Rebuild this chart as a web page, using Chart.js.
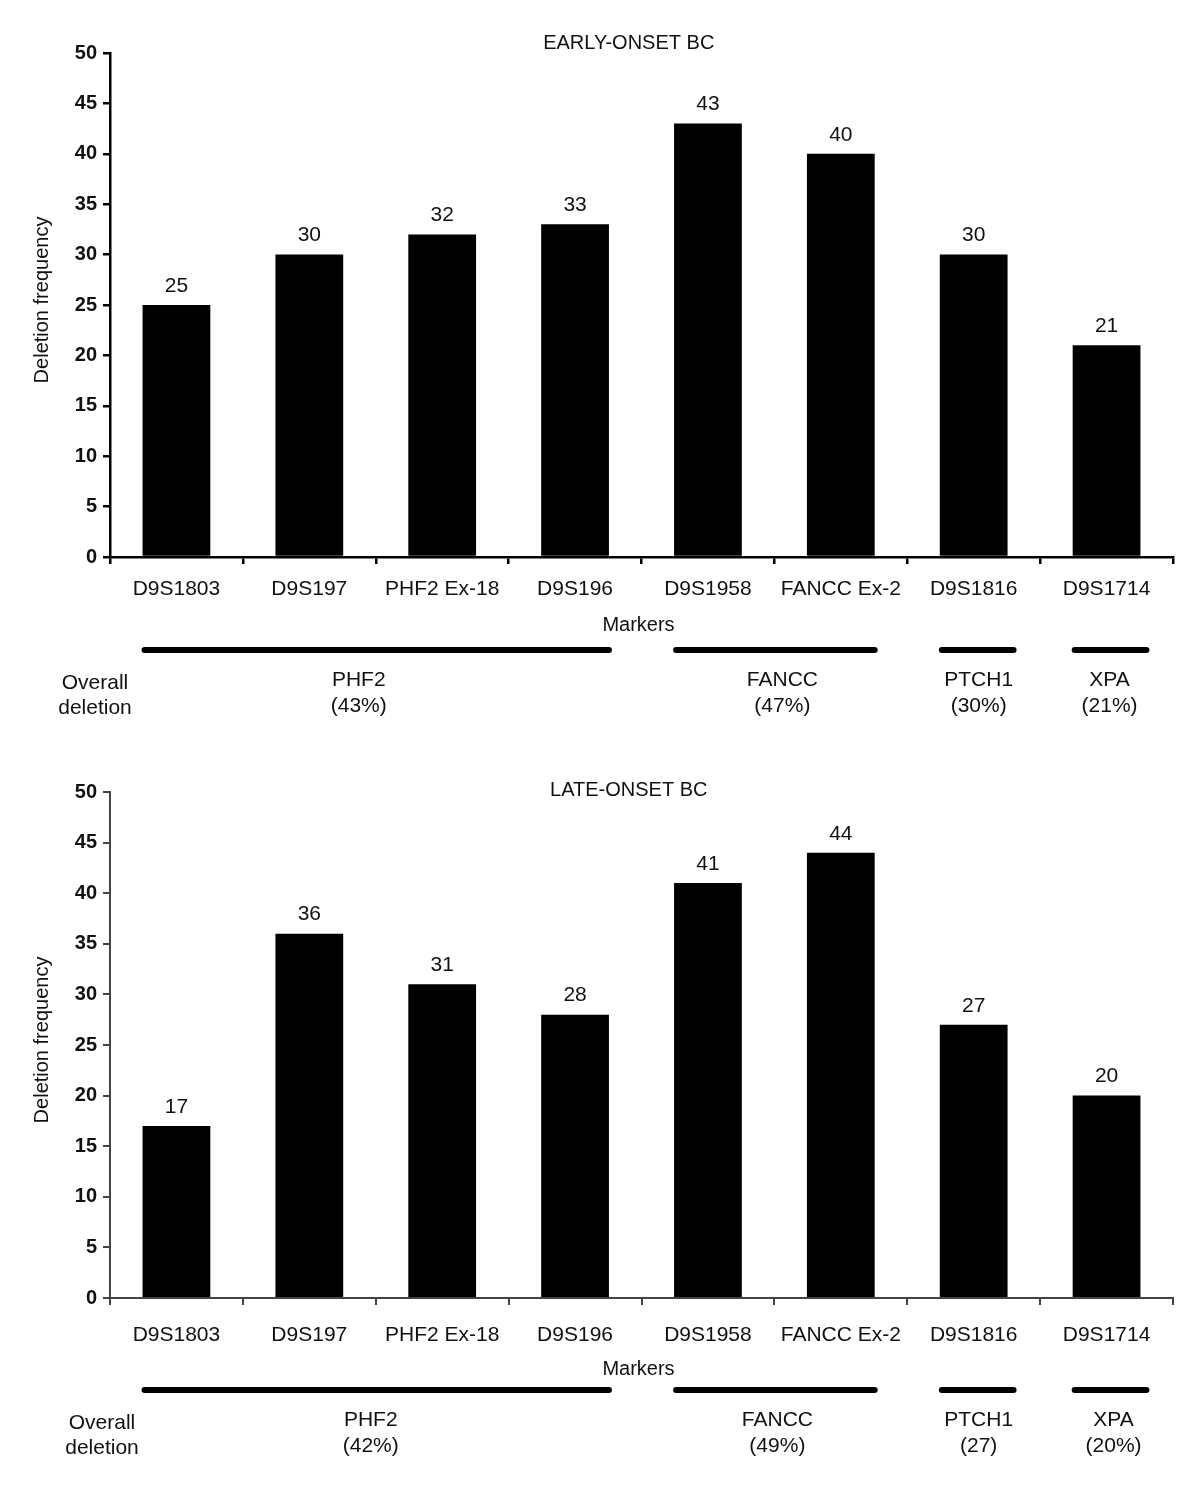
<!DOCTYPE html>
<html>
<head>
<meta charset="utf-8">
<script src="https://cdn.jsdelivr.net/npm/chart.js@4.4.1/dist/chart.umd.min.js"></script>
<style>
  body { margin: 0; background: #fff; }
  canvas { display: block; }
</style>
</head>
<body>
<canvas id="earlyChart" width="1200" height="745"></canvas>
<canvas id="lateChart" width="1200" height="756"></canvas>
<script>
// marker names along the x axis
const markers = ["D9S1803", "D9S197", "PHF2 Ex-18", "D9S196", "D9S1958", "FANCC Ex-2", "D9S1816", "D9S1714"];
// deletion frequency per marker
const earlyValues = [25, 30, 32, 33, 43, 40, 30, 21];
const lateValues = [17, 36, 31, 28, 41, 44, 27, 20];
const yTicks = [0, 5, 10, 15, 20, 25, 30, 35, 40, 45, 50];

// gene groups under the axis (first and last marker index)
const groupNames = ["PHF2", "FANCC", "PTCH1", "XPA"];
const groupFirst = [0, 4, 6, 7];
const groupLast = [3, 5, 6, 7];
const earlyPercents = ["(43%)", "(47%)", "(30%)", "(21%)"];
const latePercents = ["(42%)", "(49%)", "(27)", "(20%)"];

const ink = "#111";
const font = "'Liberation Sans', Arial, sans-serif";

// draws titles, value labels and the gene group annotations
const annotate = {
    id: "annotate",
    afterDraw(chart, args, opts) {
        const ctx = chart.ctx;
        const area = chart.chartArea;
        const bars = chart.getDatasetMeta(0).data;
        const values = chart.data.datasets[0].data;
        ctx.save();
        ctx.fillStyle = ink;
        ctx.textAlign = "center";
        ctx.textBaseline = "middle";

        // title inside the plot
        ctx.font = "20px " + font;
        ctx.fillText(opts.title, area.left + (area.right - area.left) * 0.488, area.top + opts.titleDy);

        // value labels
        ctx.font = "21px " + font;
        for (let i = 0; i < bars.length; i++) {
            ctx.fillText(String(values[i]), bars[i].x, bars[i].y - 19);
        }

        // y axis title
        ctx.save();
        ctx.translate(42, (area.top + area.bottom) / 2 - 5);
        ctx.rotate(-Math.PI / 2);
        ctx.font = "20px " + font;
        ctx.fillText("Deletion frequency", 0, 0);
        ctx.restore();

        // x axis title
        ctx.font = "20px " + font;
        ctx.fillText("Markers", (area.left + area.right) / 2 - 3, area.bottom + opts.markersDy);

        // group lines and names
        ctx.strokeStyle = "#000";
        ctx.lineWidth = 6;
        ctx.lineCap = "round";
        for (let g = 0; g < groupNames.length; g++) {
            const a = bars[groupFirst[g]], b = bars[groupLast[g]];
            const x0 = a.x - a.width / 2 + 2;
            const x1 = b.x + b.width / 2 + (groupFirst[g] === groupLast[g] ? 6 : 0);
            ctx.beginPath();
            ctx.moveTo(x0, area.bottom + opts.lineDy);
            ctx.lineTo(x1, area.bottom + opts.lineDy);
            ctx.stroke();
            const cx = (x0 + x1) / 2 + opts.textShift[g];
            ctx.font = "21px " + font;
            ctx.fillText(groupNames[g], cx, area.bottom + opts.textDy);
            ctx.fillText(opts.percents[g], cx, area.bottom + opts.textDy + 26);
        }
        ctx.font = "21px " + font;
        ctx.fillText("Overall", opts.overallX, area.bottom + opts.textDy + 3);
        ctx.fillText("deletion", opts.overallX, area.bottom + opts.textDy + 28);
        ctx.restore();
    }
};

function makeChart(id, values, setup) {
    const canvas = document.getElementById(id);
    return new Chart(canvas, {
        type: "bar",
        data: {
            labels: markers,
            datasets: [{
                data: values,
                backgroundColor: "#000",
                borderWidth: 0,
                categoryPercentage: 1,
                barPercentage: 0.51
            }]
        },
        options: {
            responsive: false,
            animation: false,
            layout: { padding: { top: setup.top, right: 27, left: 0, bottom: 0 } },
            plugins: {
                legend: { display: false },
                tooltip: { enabled: false },
                annotate: setup
            },
            scales: {
                x: {
                    grid: { display: true, drawOnChartArea: false, offset: true, tickLength: 7, color: setup.axisColor, lineWidth: setup.axisWidth },
                    border: { display: true, color: setup.axisColor, width: setup.axisWidth },
                    ticks: { color: ink, font: { family: font, size: 21 }, padding: setup.xPad, maxRotation: 0, autoSkip: false },
                    afterFit(scale) { scale.height = canvas.height - setup.bottom; }
                },
                y: {
                    min: 0,
                    max: 50,
                    afterBuildTicks(scale) { scale.ticks = yTicks.map(v => ({ value: v })); },
                    grid: { display: true, drawOnChartArea: false, tickLength: 7, color: setup.axisColor, lineWidth: setup.axisWidth },
                    border: { display: true, color: setup.axisColor, width: setup.axisWidth },
                    ticks: { color: ink, font: { family: font, size: 20, weight: "bold" }, padding: 6 },
                    afterFit(scale) { scale.width = 110; }
                }
            }
        },
        plugins: [annotate]
    });
}

makeChart("earlyChart", earlyValues, {
    title: "EARLY-ONSET BC", titleDy: -10, top: 53, bottom: 557, xPad: 13,
    markersDy: 68, lineDy: 93, textDy: 123, overallX: 95,
    textShift: [-18, 7, 1, -1], percents: earlyPercents,
    axisColor: "#000", axisWidth: 2.5
});
makeChart("lateChart", lateValues, {
    title: "LATE-ONSET BC", titleDy: -2, top: 47, bottom: 553, xPad: 18,
    markersDy: 71, lineDy: 92, textDy: 122, overallX: 102,
    textShift: [-6, 2, 1, 3], percents: latePercents,
    axisColor: "#444", axisWidth: 2
});
</script>
</body>
</html>
